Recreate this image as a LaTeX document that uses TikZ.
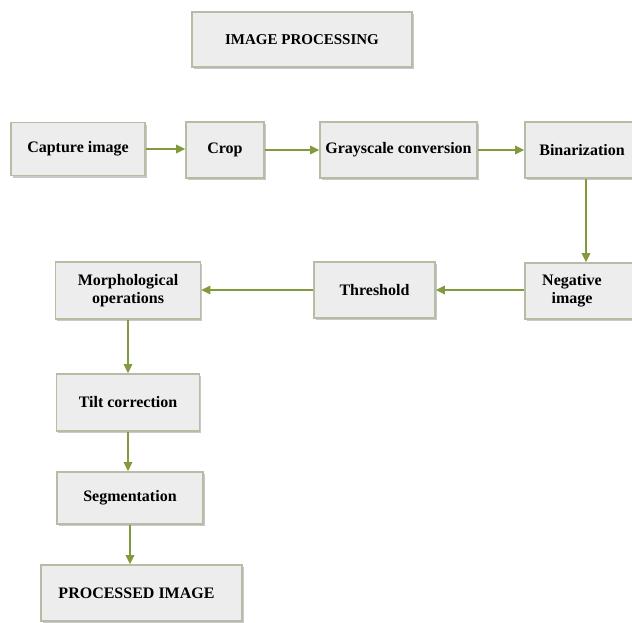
\documentclass[tikz,border=0pt]{standalone}
\usepackage{fontspec}
\setmainfont{Liberation Serif}
\usetikzlibrary{arrows.meta,shadows}
\definecolor{boxfill}{HTML}{EDEDED}
\definecolor{boxline}{HTML}{B9BCA5}
\definecolor{arr}{HTML}{809A3C}
\begin{document}
\begin{tikzpicture}[x=1pt,y=-1pt,
  procbox/.style={draw=boxline, line width=1.6pt, fill=boxfill,
    drop shadow={shadow xshift=1.5pt, shadow yshift=-2.2pt, opacity=0.3, fill=black!70},
    font=\bfseries\fontsize{16}{18}\selectfont, align=center, inner sep=0pt},
  lbl/.style={font=\bfseries\fontsize{16}{18}\selectfont, align=center, inner sep=0pt},
  flow/.style={draw=arr, line width=1.6pt, -{Triangle[length=9pt,width=8.5pt]}}]
\useasboundingbox (0,0) rectangle (632,622);

\node[procbox, minimum width=220pt, minimum height=55pt, font=\bfseries\fontsize{15}{18}\selectfont] (title) at (302,39.5) {IMAGE PROCESSING};

\node[procbox, minimum width=134pt, minimum height=53pt] (capture) at (78,149) {Capture image};
\node[procbox, minimum width=78pt, minimum height=56pt] (crop) at (225,150) {Crop};
\node[procbox, minimum width=157pt, minimum height=56pt] (gray) at (398.5,150) {Grayscale conversion};
\node[procbox, minimum width=122pt, minimum height=56pt] (bin) at (586,150) {\hspace*{-8pt}Binarization};

\node[procbox, minimum width=122pt, minimum height=56pt] (neg) at (586,291) {};
\node[lbl] (negt) at (572,291) {Negative\\image};
\node[procbox, minimum width=121pt, minimum height=56pt] (thr) at (374.5,290) {Threshold};
\node[procbox, minimum width=145pt, minimum height=57pt] (morph) at (128,290.5) {Morphological\\operations};

\node[procbox, minimum width=143pt, minimum height=57pt] (tilt) at (128,402.5) {Tilt correction};
\node[procbox, minimum width=146pt, minimum height=52pt] (seg) at (130,498) {Segmentation};
\node[procbox, minimum width=201pt, minimum height=56pt] (proc) at (141.5,593) {\hspace*{-10pt}PROCESSED IMAGE};

\draw[flow] (capture.east) -- (capture.east -| crop.west);
\draw[flow] (crop.east) -- (gray.west);
\draw[flow] (gray.east) -- (bin.west);
\draw[flow] (bin.south) -- (neg.north);
\draw[flow] (thr.east -| neg.west) -- (thr.east);
\draw[flow] (thr.west) -- (thr.west -| morph.east);
\draw[flow] (morph.south) -- (morph.south |- tilt.north);
\draw[flow] (tilt.south) -- (tilt.south |- seg.north);
\draw[flow] (seg.south) -- (seg.south |- proc.north);
\end{tikzpicture}
\end{document}
